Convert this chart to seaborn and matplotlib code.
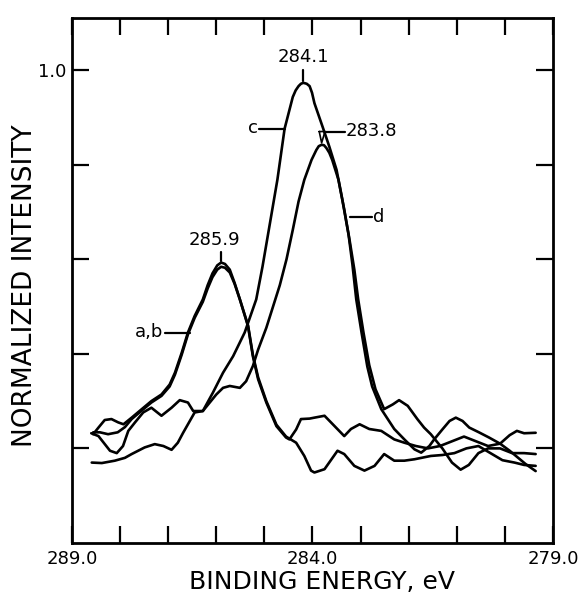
import numpy as np
import pandas as pd
import matplotlib
matplotlib.use("Agg")
import matplotlib.pyplot as plt
import seaborn as sns

# binding energy (eV) and normalized intensity
a_x = [288.56, 288.45, 288.32, 288.18, 288.04, 287.93, 287.76, 287.55, 287.35, 287.14,
       286.97, 286.86, 286.72, 286.59, 286.45, 286.28, 286.18, 286.08, 285.98, 285.90,
       285.82, 285.72, 285.62, 285.51, 285.34, 285.24, 285.13, 284.96, 284.75, 284.55,
       284.48, 284.34, 284.24, 284.06, 283.96, 283.75, 283.54, 283.34, 283.20, 283.02,
       282.82, 282.57, 282.30, 282.09, 281.85, 281.60, 281.35, 281.10, 280.85, 280.60,
       280.35, 280.10, 279.90, 279.75, 279.60, 279.36]
a_y = [0.230, 0.244, 0.260, 0.262, 0.255, 0.251, 0.265, 0.283, 0.300, 0.314,
       0.335, 0.360, 0.402, 0.445, 0.480, 0.515, 0.545, 0.570, 0.587, 0.593,
       0.590, 0.578, 0.550, 0.515, 0.458, 0.395, 0.346, 0.297, 0.247, 0.223,
       0.219, 0.240, 0.262, 0.263, 0.265, 0.269, 0.247, 0.226, 0.241, 0.251,
       0.241, 0.237, 0.219, 0.212, 0.205, 0.200, 0.205, 0.215, 0.225, 0.215,
       0.205, 0.210, 0.228, 0.237, 0.232, 0.233]

b_x = [288.56, 288.42, 288.25, 288.05, 287.90, 287.76, 287.55, 287.35, 287.14, 286.97,
       286.86, 286.72, 286.59, 286.45, 286.28, 286.18, 286.08, 285.98, 285.90, 285.82,
       285.72, 285.62, 285.51, 285.34, 285.24, 285.13, 284.96, 284.75, 284.55, 284.34,
       284.17, 284.03, 283.96, 283.75, 283.48, 283.34, 283.13, 282.92, 282.71, 282.51,
       282.30, 282.09, 281.88, 281.54, 281.30, 281.05, 280.80, 280.55, 280.30, 280.05,
       279.80, 279.60, 279.36]
b_y = [0.234, 0.234, 0.230, 0.234, 0.245, 0.262, 0.280, 0.297, 0.311, 0.331,
       0.356, 0.398, 0.441, 0.476, 0.510, 0.538, 0.562, 0.578, 0.584, 0.582,
       0.572, 0.548, 0.515, 0.460, 0.398, 0.350, 0.300, 0.250, 0.225, 0.212,
       0.184, 0.153, 0.149, 0.156, 0.195, 0.188, 0.163, 0.153, 0.163, 0.188,
       0.174, 0.174, 0.177, 0.184, 0.186, 0.190, 0.200, 0.205, 0.190, 0.175,
       0.170, 0.165, 0.163]

c_x = [288.59, 288.38, 288.11, 287.90, 287.76, 287.49, 287.28, 287.10, 286.93, 286.80,
       286.69, 286.45, 286.28, 286.07, 285.86, 285.65, 285.41, 285.17, 285.04, 284.89,
       284.73, 284.58, 284.41, 284.35, 284.29, 284.24, 284.19, 284.12, 284.06, 284.01,
       283.96, 283.79, 283.65, 283.50, 283.38, 283.25, 283.17, 283.09, 282.98, 282.86,
       282.76, 282.57, 282.30, 282.09, 281.88, 281.74, 281.57, 281.47, 281.30, 281.15,
       281.02, 280.88, 280.74, 280.54, 280.33, 280.10, 279.90, 279.77, 279.57, 279.36]
c_y = [0.170, 0.169, 0.174, 0.180, 0.188, 0.202, 0.209, 0.205, 0.197, 0.212,
       0.233, 0.276, 0.279, 0.318, 0.360, 0.395, 0.445, 0.515, 0.584, 0.673,
       0.768, 0.876, 0.943, 0.957, 0.966, 0.971, 0.973, 0.971, 0.966, 0.952,
       0.930, 0.880, 0.838, 0.789, 0.726, 0.652, 0.589, 0.515, 0.445, 0.373,
       0.331, 0.283, 0.241, 0.219, 0.198, 0.191, 0.205, 0.219, 0.240, 0.258,
       0.265, 0.258, 0.244, 0.234, 0.223, 0.210, 0.195, 0.184, 0.167, 0.152]

d_x = [288.60, 288.45, 288.21, 288.07, 287.94, 287.83, 287.69, 287.52, 287.35, 287.14,
       286.93, 286.76, 286.59, 286.48, 286.28, 286.00, 285.86, 285.72, 285.51, 285.38,
       285.24, 285.13, 284.96, 284.82, 284.68, 284.54, 284.41, 284.29, 284.17, 284.02,
       283.92, 283.87, 283.81, 283.76, 283.71, 283.65, 283.59, 283.46, 283.34, 283.23,
       283.13, 283.05, 282.94, 282.82, 282.69, 282.51, 282.33, 282.20, 282.02, 281.82,
       281.68, 281.54, 281.30, 281.10, 280.92, 280.75, 280.55, 280.35, 280.10, 279.85,
       279.60, 279.36]
d_y = [0.232, 0.226, 0.195, 0.190, 0.205, 0.237, 0.255, 0.276, 0.286, 0.269,
       0.286, 0.302, 0.297, 0.279, 0.279, 0.314, 0.328, 0.332, 0.328, 0.342,
       0.374, 0.409, 0.455, 0.500, 0.545, 0.600, 0.662, 0.722, 0.768, 0.810,
       0.831, 0.839, 0.842, 0.841, 0.835, 0.825, 0.810, 0.768, 0.705, 0.641,
       0.578, 0.515, 0.445, 0.376, 0.325, 0.283, 0.293, 0.302, 0.290, 0.262,
       0.244, 0.230, 0.200, 0.170, 0.155, 0.165, 0.190, 0.200, 0.200, 0.190,
       0.190, 0.188]

peak_labels = ["285.9", "284.1", "283.8"]
peak_pos = [285.90, 284.19, 283.81]
peak_val = [0.593, 0.973, 0.842]

x_ticks = [289, 288, 287, 286, 285, 284, 283, 282, 281, 280, 279]
x_ticklabels = ["289.0", "", "", "", "", "284.0", "", "", "", "", "279.0"]
y_ticks = [0.2, 0.4, 0.6, 0.8, 1.0]
y_ticklabels = ["", "", "", "", "1.0"]

curves = {"a": (a_x, a_y), "b": (b_x, b_y), "c": (c_x, c_y), "d": (d_x, d_y)}
df = pd.concat([pd.DataFrame({"energy": x, "intensity": y, "curve": k})
                for k, (x, y) in curves.items()], ignore_index=True)

sns.set_style("ticks")
plt.rcParams["font.family"] = ["DejaVu Sans"]
plt.rcParams["text.color"] = "black"
plt.rcParams["axes.labelcolor"] = "black"

fig = plt.figure(figsize=(5.78, 5.97), dpi=100)
ax = fig.add_axes([0.1246, 0.0905, 0.8321, 0.8793])

for k in curves:
    sns.lineplot(data=df[df.curve == k], x="energy", y="intensity", sort=False,
                 color="black", lw=1.9, ax=ax, legend=False,
                 solid_joinstyle="round", solid_capstyle="round")

ax.set_xlim(289, 279)
ax.set_ylim(0, 1.11)
ax.set_xticks(x_ticks)
ax.set_xticklabels(x_ticklabels)
ax.set_yticks(y_ticks)
ax.set_yticklabels(y_ticklabels)
ax.tick_params(direction="in", length=12, width=1.6, top=True, right=True,
               labelsize=13, colors="black", labelcolor="black")
ax.tick_params(axis="x", pad=5)
ax.tick_params(axis="y", pad=4)
for s in ax.spines.values():
    s.set_linewidth(2.0)
    s.set_color("black")

ax.set_xlabel("BINDING ENERGY, eV", fontsize=18, color="black")
ax.set_ylabel("NORMALIZED INTENSITY", fontsize=19, color="black")
ax.xaxis.set_label_coords(0.52, -0.051)
ax.yaxis.set_label_coords(-0.070, 0.49)

# peak value labels with short leaders
lw = 1.6
ax.plot([peak_pos[0], peak_pos[0]], [peak_val[0] + 0.003, peak_val[0] + 0.022], color="black", lw=lw)
ax.text(peak_pos[0] + 0.14, peak_val[0] + 0.048, peak_labels[0], ha="center", va="center", fontsize=13)
ax.plot([peak_pos[1], peak_pos[1]], [peak_val[1] + 0.003, peak_val[1] + 0.028], color="black", lw=lw)
ax.text(peak_pos[1], peak_val[1] + 0.055, peak_labels[1], ha="center", va="center", fontsize=13)
ax.plot([peak_pos[2] + 0.05, peak_pos[2] - 0.07, peak_pos[2], peak_pos[2] + 0.05],
        [peak_val[2] + 0.028, peak_val[2] + 0.028, peak_val[2] + 0.004, peak_val[2] + 0.028],
        color="black", lw=1.2)
ax.plot([peak_pos[2] - 0.07, peak_pos[2] - 0.49], [peak_val[2] + 0.028, peak_val[2] + 0.028], color="black", lw=lw)
ax.text(peak_pos[2] - 0.50, peak_val[2] + 0.029, peak_labels[2], ha="left", va="center", fontsize=13)

# curve tags
ax.plot([285.12, 284.58], [0.876, 0.876], color="black", lw=lw)
ax.text(285.14, 0.878, "c", ha="right", va="center", fontsize=13)
ax.plot([283.22, 282.76], [0.689, 0.689], color="black", lw=lw)
ax.text(282.74, 0.690, "d", ha="left", va="center", fontsize=13)
ax.plot([287.07, 286.55], [0.444, 0.444], color="black", lw=lw)
ax.text(287.10, 0.446, "a,b", ha="right", va="center", fontsize=13)

fig.savefig("out.png", dpi=100)
